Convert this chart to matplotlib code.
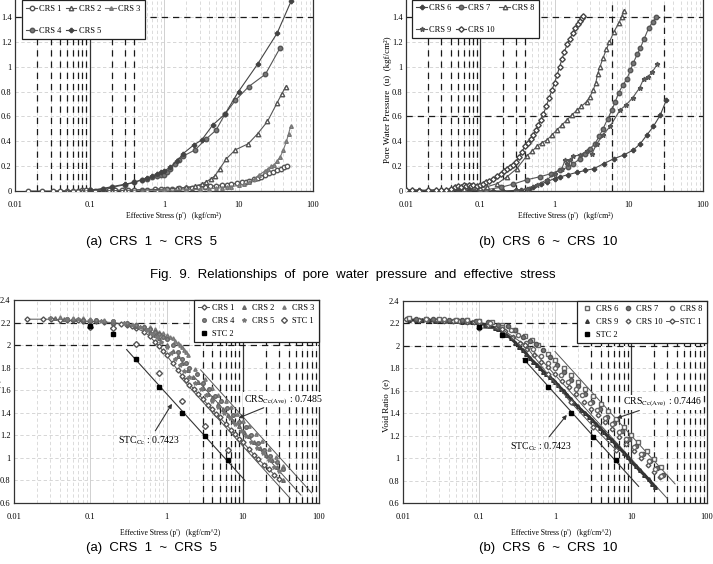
import numpy as np
import matplotlib.pyplot as plt
from matplotlib.ticker import LogLocator, NullFormatter

plt.rcParams['font.family'] = ['Liberation Serif', 'DejaVu Serif']
plt.rcParams['mathtext.fontset'] = 'stix'

# ---------------- Fig 9 (a) pore water pressure, CRS 1 - 5
crs1_p = [0.015, 0.023, 0.032, 0.04, 0.05, 0.06, 0.07, 0.08, 0.09, 0.1, 0.12, 0.15, 0.18, 0.22, 0.27, 0.33,
          0.4, 0.5, 0.6, 0.75, 0.9, 1.1, 1.3, 1.6, 2.0, 2.4, 2.9, 3.5, 4.2, 5.0, 6.0, 7.0, 8.0, 9.5, 11,
          12.5, 14, 16, 18, 20, 23, 26, 29, 33, 37, 41, 45]
crs1_u = [0, 0, 0, 0.003, 0.002, 0.004, 0.003, 0.005, 0.006, 0.005, 0.004, 0.005, 0.006, 0.006, 0.007, 0.008,
          0.009, 0.011, 0.012, 0.014, 0.015, 0.017, 0.019, 0.022, 0.025, 0.028, 0.031, 0.035, 0.039, 0.043,
          0.048, 0.052, 0.056, 0.062, 0.069, 0.076, 0.084, 0.094, 0.105, 0.115, 0.13, 0.143, 0.155, 0.168,
          0.18, 0.19, 0.2]
crs2_p = [0.05, 0.08, 0.1, 0.15, 0.2, 0.3, 0.5, 0.8, 1.0, 1.5, 2.0, 2.6, 3.2, 3.7, 4.3, 4.8, 5.6, 6.9, 9.0,
          13.5, 18, 24.5, 33, 38, 43]
crs2_u = [0, 0, 0, 0.002, 0.003, 0.005, 0.008, 0.012, 0.015, 0.022, 0.03, 0.04, 0.055, 0.075, 0.1, 0.12,
          0.18, 0.26, 0.33, 0.38, 0.46, 0.56, 0.71, 0.78, 0.84]
crs3_p = [0.5, 1, 2, 3, 4, 5, 6, 7, 8, 10, 12, 14, 16.6, 19, 22.5, 25, 27.7, 30, 33, 36, 40, 44, 47, 50]
crs3_u = [0, 0.005, 0.01, 0.015, 0.018, 0.022, 0.026, 0.03, 0.035, 0.045, 0.055, 0.07, 0.1, 0.13, 0.16,
          0.18, 0.2, 0.21, 0.24, 0.27, 0.33, 0.4, 0.46, 0.52]
crs4_p = [0.1, 0.15, 0.2, 0.3, 0.4, 0.5, 0.6, 0.7, 0.8, 0.9, 1.0, 1.1, 1.2, 1.4, 1.6, 1.8, 2.6, 3.7, 5.0,
          6.6, 9.1, 13.7, 23, 36]
crs4_u = [0.005, 0.015, 0.03, 0.05, 0.07, 0.09, 0.1, 0.11, 0.12, 0.125, 0.13, 0.15, 0.18, 0.22, 0.25,
          0.28, 0.33, 0.42, 0.49, 0.62, 0.73, 0.84, 0.94, 1.15]
crs5_p = [0.1, 0.15, 0.2, 0.3, 0.4, 0.5, 0.6, 0.7, 0.8, 0.9, 1.0, 1.2, 1.5, 1.8, 2.5, 3.2, 4.5, 6.6, 10,
          18, 33, 51]
crs5_u = [0.005, 0.02, 0.035, 0.055, 0.07, 0.09, 0.105, 0.12, 0.14, 0.15, 0.16, 0.19, 0.24, 0.3, 0.37,
          0.41, 0.53, 0.62, 0.8, 1.02, 1.27, 1.53]

# ---------------- Fig 9 (b) pore water pressure, CRS 6 - 10
crs6_p = [0.01, 0.015, 0.02, 0.03, 0.05, 0.07, 0.1, 0.15, 0.2, 0.3, 0.35, 0.45, 0.52, 0.65, 0.79, 1.0,
          1.2, 1.5, 2.0, 2.6, 3.4, 4.6, 6.3, 8.6, 11.5, 14.3, 17.5, 21.5, 26.5, 32]
crs6_u = [0.01, 0.005, 0.005, 0.005, 0.005, 0.005, 0.005, 0, 0, 0.005, 0.008, 0.02, 0.035, 0.055, 0.075,
          0.1, 0.115, 0.13, 0.15, 0.165, 0.18, 0.22, 0.26, 0.29, 0.33, 0.38, 0.45, 0.52, 0.61, 0.73]
crs7_p = [0.1, 0.12, 0.19, 0.28, 0.42, 0.64, 0.9, 1.2, 1.5, 1.8, 2.2, 2.6, 3.0, 3.5, 4.0, 4.5, 5.2, 5.9,
          6.6, 7.3, 8.3, 9.4, 10.5, 11.5, 13, 14.3, 16, 18.5, 21, 23.4]
crs7_u = [0.0, 0.01, 0.03, 0.056, 0.09, 0.115, 0.14, 0.17, 0.19, 0.22, 0.26, 0.3, 0.34, 0.38, 0.44, 0.5,
          0.58, 0.65, 0.72, 0.79, 0.85, 0.9, 0.97, 1.03, 1.1, 1.15, 1.22, 1.31, 1.36, 1.4]
crs8_p = [0.01, 0.02, 0.04, 0.06, 0.08, 0.1, 0.125, 0.17, 0.23, 0.31, 0.42, 0.5, 0.58, 0.68, 0.79, 0.92,
          1.07, 1.25, 1.46, 1.7, 2.0, 2.3, 2.7, 3.0, 3.3, 3.6, 3.8, 4.1, 4.5, 5.0, 5.5, 6.3, 7.3, 8.0, 8.5]
crs8_u = [0.01, 0.005, 0.01, 0.02, 0.03, 0.025, 0.035, 0.06, 0.115, 0.18, 0.28, 0.32, 0.36, 0.39, 0.41,
          0.45, 0.49, 0.53, 0.57, 0.61, 0.65, 0.68, 0.72, 0.76, 0.81, 0.87, 0.94, 1.0, 1.07, 1.14, 1.2,
          1.28, 1.35, 1.4, 1.45]
crs9_p = [0.3, 0.42, 0.58, 0.79, 1.0, 1.25, 1.4, 1.46, 1.6, 1.8, 2.2, 2.7, 3.2, 3.7, 4.5, 5.6, 7.6, 9.1,
          11.3, 14, 15.8, 18.3, 20.8, 24.3]
crs9_u = [0, 0.02, 0.05, 0.09, 0.14, 0.18, 0.25, 0.22, 0.25, 0.28, 0.29, 0.32, 0.3, 0.38, 0.45, 0.52,
          0.65, 0.69, 0.75, 0.83, 0.9, 0.92, 0.96, 1.02]
crs10_p = [0.01, 0.012, 0.015, 0.02, 0.025, 0.03, 0.035, 0.04, 0.045, 0.05, 0.055, 0.06, 0.065, 0.07,
           0.075, 0.08, 0.09, 0.1, 0.11, 0.12, 0.13, 0.15, 0.17, 0.19, 0.21, 0.23, 0.25, 0.28, 0.3, 0.33,
           0.36, 0.4, 0.44, 0.48, 0.52, 0.56, 0.6, 0.65, 0.71, 0.77, 0.85, 0.92, 1.0, 1.08, 1.17, 1.26,
           1.36, 1.48, 1.6, 1.75, 1.9, 2.05, 2.2, 2.35, 2.45]
crs10_u = [0.01, 0.005, 0.0, 0.005, 0.01, 0.005, 0.01, 0.02, 0.03, 0.04, 0.035, 0.045, 0.04, 0.05, 0.04,
           0.045, 0.04, 0.05, 0.06, 0.07, 0.08, 0.1, 0.12, 0.14, 0.16, 0.18, 0.19, 0.21, 0.23, 0.27, 0.31,
           0.36, 0.39, 0.42, 0.45, 0.49, 0.53, 0.57, 0.62, 0.68, 0.75, 0.81, 0.87, 0.93, 1.0, 1.06, 1.12,
           1.18, 1.22, 1.27, 1.31, 1.34, 1.37, 1.39, 1.41]

# ---------------- void ratio, CRS 1 - 5
e1_p = [0.015, 0.024, 0.031, 0.04, 0.05, 0.06, 0.07, 0.08, 0.1, 0.12, 0.15, 0.2, 0.25, 0.3, 0.35, 0.4, 0.5,
        0.6, 0.7, 0.8, 0.9, 1.0, 1.2, 1.4, 1.6, 1.8, 2.0, 2.3, 2.6, 3.0, 3.5, 4.0, 4.5, 5, 6, 7, 8, 9, 10,
        12, 14, 16, 19, 22, 26, 30]
e1_e = [2.23, 2.23, 2.23, 2.225, 2.22, 2.22, 2.22, 2.215, 2.21, 2.21, 2.205, 2.2, 2.19, 2.18, 2.17, 2.15,
        2.12, 2.08, 2.03, 1.99, 1.95, 1.91, 1.84, 1.78, 1.73, 1.69, 1.65, 1.61, 1.57, 1.52, 1.47, 1.43,
        1.39, 1.36, 1.3, 1.25, 1.21, 1.17, 1.14, 1.08, 1.03, 0.99, 0.94, 0.9, 0.85, 0.81]
e2_p = [0.035, 0.045, 0.06, 0.08, 0.1, 0.15, 0.2, 0.3, 0.4, 0.5, 0.6, 0.7, 0.8, 1.0, 1.2, 1.4, 1.6, 1.9,
        2.2, 2.6, 3, 3.5, 4, 4.7, 5.5, 6.5, 7.5, 9, 10.5, 12, 14, 17, 20, 24, 28, 34]
e2_e = [2.24, 2.23, 2.23, 2.22, 2.22, 2.21, 2.2, 2.19, 2.17, 2.15, 2.12, 2.09, 2.06, 2.0, 1.95, 1.9, 1.84,
        1.78, 1.72, 1.67, 1.62, 1.57, 1.53, 1.48, 1.43, 1.38, 1.33, 1.28, 1.23, 1.19, 1.14, 1.09, 1.03,
        0.98, 0.92, 0.8]
e3_p = [0.04, 0.06, 0.08, 0.1, 0.15, 0.2, 0.3, 0.4, 0.5, 0.6, 0.7, 0.8, 0.9, 1.0, 1.1, 1.2, 1.3, 1.4,
        1.5, 1.6, 1.7, 1.8, 1.9, 2.4, 3.2, 4.0, 4.8, 6, 7, 8.5, 10, 12, 15, 18, 22, 27, 34]
e3_e = [2.25, 2.24, 2.24, 2.23, 2.22, 2.21, 2.2, 2.19, 2.17, 2.16, 2.14, 2.12, 2.11, 2.09, 2.07, 2.06,
        2.04, 2.02, 2.0, 1.98, 1.96, 1.94, 1.91, 1.79, 1.7, 1.62, 1.56, 1.5, 1.45, 1.39, 1.33, 1.28,
        1.21, 1.15, 1.08, 1.01, 0.93]
e4_p = [0.05, 0.08, 0.12, 0.2, 0.3, 0.4, 0.5, 0.6, 0.7, 0.8, 0.9, 1.0, 1.2, 1.4, 1.6, 1.8, 2.0, 2.5, 3.0,
        3.6, 4.3, 5.2, 6.2, 7.5, 9, 11, 13, 16, 19, 23, 28, 34]
e4_e = [2.23, 2.22, 2.22, 2.21, 2.2, 2.18, 2.16, 2.14, 2.12, 2.1, 2.07, 2.05, 2.0, 1.94, 1.88, 1.84, 1.8,
        1.74, 1.66, 1.61, 1.55, 1.5, 1.44, 1.38, 1.32, 1.27, 1.2, 1.13, 1.07, 1.02, 0.96, 0.9]
e5_p = [0.03, 0.05, 0.07, 0.1, 0.14, 0.2, 0.28, 0.35, 0.45, 0.55, 0.65, 0.75, 0.85, 1.0, 1.15, 1.3, 1.5,
        1.7, 2.0, 2.4, 2.8, 3.3, 4, 4.8, 5.7, 6.8, 8, 9.5, 11, 13, 15.5, 18.5, 22, 26, 30]
e5_e = [2.24, 2.23, 2.23, 2.22, 2.21, 2.21, 2.2, 2.18, 2.16, 2.13, 2.1, 2.07, 2.03, 1.98, 1.93, 1.88,
        1.82, 1.77, 1.72, 1.66, 1.61, 1.56, 1.5, 1.45, 1.4, 1.35, 1.3, 1.24, 1.19, 1.14, 1.09, 1.04,
        0.98, 0.92, 0.88]

# ---------------- void ratio, CRS 6 - 10
e6_p = [0.012, 0.02, 0.03, 0.05, 0.07, 0.1, 0.15, 0.2, 0.3, 0.4, 0.5, 0.6, 0.8, 1.0, 1.3, 1.6, 2, 2.5,
        3.2, 4, 5, 6.3, 8, 10, 12.5, 16, 20, 25]
e6_e = [2.25, 2.24, 2.24, 2.23, 2.23, 2.22, 2.21, 2.19, 2.14, 2.09, 2.05, 2.01, 1.93, 1.87, 1.8, 1.74,
        1.68, 1.62, 1.55, 1.48, 1.42, 1.35, 1.28, 1.21, 1.14, 1.06, 0.99, 0.92]
e7_p = [0.015, 0.025, 0.04, 0.06, 0.09, 0.13, 0.18, 0.24, 0.3, 0.38, 0.47, 0.57, 0.7, 0.85, 1.05, 1.3,
        1.6, 2, 2.5, 3.1, 3.9, 4.8, 6, 7.5, 9.3, 11.5, 14.5, 18, 22, 26]
e7_e = [2.24, 2.24, 2.23, 2.23, 2.22, 2.21, 2.19, 2.18, 2.14, 2.08, 2.04, 2.02, 1.96, 1.9, 1.83, 1.77,
        1.7, 1.64, 1.57, 1.5, 1.44, 1.37, 1.31, 1.24, 1.17, 1.11, 1.04, 0.97, 0.91, 0.85]
e8_p = [0.02, 0.035, 0.05, 0.07, 0.1, 0.14, 0.2, 0.26, 0.33, 0.42, 0.52, 0.65, 0.8, 1.0, 1.2, 1.5, 1.9,
        2.3, 2.9, 3.6, 4.5, 5.6, 7, 8.7, 11, 13.5, 17, 21, 25]
e8_e = [2.24, 2.24, 2.23, 2.23, 2.22, 2.2, 2.17, 2.14, 2.1, 2.03, 1.97, 1.91, 1.85, 1.8, 1.74, 1.68, 1.62,
        1.56, 1.49, 1.43, 1.36, 1.3, 1.23, 1.17, 1.1, 1.04, 0.97, 0.9, 0.84]
e9_p = [0.012, 0.015, 0.018, 0.022, 0.026, 0.03, 0.035, 0.04, 0.045, 0.05, 0.06, 0.07, 0.08, 0.09, 0.1,
        0.12, 0.14, 0.16, 0.18, 0.2, 0.23, 0.26, 0.3, 0.34, 0.38, 0.42, 0.47, 0.52, 0.58, 0.64, 0.7, 0.77,
        0.85, 0.93, 1.0, 1.1, 1.2, 1.3, 1.45, 1.6, 1.8, 2.0, 2.2, 2.5, 2.8, 3.1, 3.5, 3.9, 4.4, 5, 5.6,
        6.3, 7, 8, 9, 10, 11.5, 13, 15, 17, 19, 21]
e9_e = [2.23, 2.23, 2.23, 2.23, 2.22, 2.23, 2.22, 2.22, 2.22, 2.22, 2.21, 2.21, 2.21, 2.21, 2.2,
        2.19, 2.18, 2.16, 2.15, 2.13, 2.1, 2.07, 2.03, 1.99, 1.96, 1.93, 1.89, 1.86, 1.83, 1.8, 1.77, 1.75,
        1.72, 1.7, 1.68, 1.65, 1.62, 1.6, 1.56, 1.53, 1.49, 1.46, 1.43, 1.4, 1.37, 1.34, 1.3, 1.27, 1.23,
        1.19, 1.16, 1.12, 1.09, 1.05, 1.01, 0.97, 0.93, 0.89, 0.85, 0.81, 0.77, 0.74]
e10_p = [0.011, 0.016, 0.021, 0.028, 0.035, 0.045, 0.055, 0.07, 0.085, 0.1, 0.13, 0.17, 0.22, 0.28, 0.35,
         0.43, 0.53, 0.65, 0.8, 1.0, 1.25, 1.55, 1.9, 2.4, 3, 3.7, 4.6, 5.7, 7, 8.7, 10.8, 13.5, 16.5, 20, 24]
e10_e = [2.24, 2.23, 2.23, 2.23, 2.22, 2.22, 2.22, 2.21, 2.21, 2.2, 2.19, 2.17, 2.13, 2.08, 2.03, 1.97,
         1.92, 1.86, 1.81, 1.75, 1.69, 1.63, 1.57, 1.5, 1.44, 1.38, 1.32, 1.26, 1.19, 1.13, 1.06, 1.0,
         0.94, 0.88, 0.83]

# standard oedometer tests
stc_p = [0.1, 0.2, 0.4, 0.8, 1.6, 3.2, 6.4]
stc1_e = [2.16, 2.15, 2.01, 1.75, 1.50, 1.28, 1.07]
stc2_e = [2.17, 2.10, 1.875, 1.63, 1.40, 1.19, 0.98]

# Cc lines (end points)
stc_line_a = ([0.3, 10.7], [1.96, 0.80])
crs_lines_a = [([1.55, 42], [1.71, 0.64]), ([2.3, 58], [1.72, 0.67]), ([2.8, 80], [1.78, 0.69])]
stc_line_b = ([0.38, 12.6], [1.888, 0.748])
crs_lines_b = [([0.45, 30], [2.0, 0.64]), ([1.0, 38], [1.95, 0.77])]

W, H = 713, 564
fig = plt.figure(figsize=(W / 100, H / 100), dpi=100)


def box(x0, y0, x1, y1):
    return [x0 / W, 1 - y1 / H, (x1 - x0) / W, (y1 - y0) / H]


def setup(ax, ylim, yticks, ylabels, dark_v, solid_v, dark_h):
    ax.set_xscale('log')
    ax.set_xlim(0.01, 100)
    ax.set_ylim(*ylim)
    ax.set_xticks([0.01, 0.1, 1, 10, 100])
    ax.set_xticklabels(['0.01', '0.1', '1', '10', '100'])
    ax.xaxis.set_minor_locator(LogLocator(base=10, subs=np.arange(2, 10)))
    ax.xaxis.set_minor_formatter(NullFormatter())
    ax.set_yticks(yticks)
    ax.set_yticklabels(ylabels)
    ax.grid(which='major', axis='x', color='#d0d0d0', lw=0.7)
    ax.grid(which='minor', axis='x', color='#d6d6d6', lw=0.6, ls=(0, (4, 3)))
    ax.grid(which='major', axis='y', color='#d0d0d0', lw=0.6, ls=(0, (4, 3)))
    ax.set_axisbelow(True)
    ax.tick_params(which='both', length=0, labelsize=6)
    ax.tick_params(axis='x', pad=7)
    ax.tick_params(axis='y', pad=2.5)
    for v in dark_v:
        ax.axvline(v, color='#1a1a1a', lw=0.9, ls=(0, (5, 4)), zorder=1.5)
    ax.axvline(solid_v, color='#333333', lw=0.9, zorder=1.5)
    for h in dark_h:
        ax.axhline(h, color='#1a1a1a', lw=0.9, ls=(0, (5, 4)), zorder=1.5)
    for s in ax.spines.values():
        s.set_color('#333333')
        s.set_linewidth(0.9)


def frame(leg):
    leg.get_frame().set_linewidth(0.9)


lo = [0.02, 0.03, 0.04, 0.05, 0.06, 0.07, 0.08, 0.09, 0.2, 0.3, 0.4]
hi = [3, 4, 5, 6, 7, 8, 9, 20, 30, 40, 50, 60, 70, 80, 90]
u_ticks = [0, 0.2, 0.4, 0.6, 0.8, 1.0, 1.2, 1.4]
u_labels = ['0', '0.2', '0.4', '0.6', '0.8', '1', '1.2', '1.4']
e_ticks = [0.6, 0.8, 1.0, 1.2, 1.4, 1.6, 1.8, 2.0, 2.2, 2.4]
e_labels = ['0.6', '0.8', '1', '1.2', '1.4', '1.6', '1.8', '2', '2.2', '2.4']

gc = '#555555'
ms = 3.2
lw = 0.8
top_leg = dict(ncol=3, loc='lower left', fontsize=6, frameon=True, fancybox=False, framealpha=1,
               edgecolor='#222222', handlelength=1.3, columnspacing=0.5, labelspacing=1.7,
               borderpad=0.5, handletextpad=0.25, borderaxespad=0)
bot_leg = dict(ncol=3, loc='upper right', fontsize=6, frameon=True, fancybox=False, framealpha=1,
               edgecolor='#222222', handlelength=1.4, columnspacing=0.45, labelspacing=0.6,
               borderpad=0.5, handletextpad=0.3, borderaxespad=0)

# ---------- (a) pore pressure
ax1 = fig.add_axes(box(15, 0, 313, 191))
setup(ax1, (0, 1.537), u_ticks, u_labels, lo, 0.1, [1.4])
ax1.spines['top'].set_visible(False)
h1 = ax1.plot(crs1_p, crs1_u, '-o', color=gc, mfc='white', ms=ms, lw=lw, zorder=3)[0]
h2 = ax1.plot(crs2_p, crs2_u, '-^', color=gc, mfc='white', ms=ms, lw=lw, zorder=3)[0]
h3 = ax1.plot(crs3_p, crs3_u, '-^', color='#777777', mfc='#999999', ms=2.6, lw=lw, zorder=3)[0]
h4 = ax1.plot(crs4_p, crs4_u, '-o', color=gc, mfc='#777777', ms=ms, lw=lw, zorder=3)[0]
h5 = ax1.plot(crs5_p, crs5_u, '-P', color='#444444', mfc='#444444', ms=3, lw=lw, zorder=3)[0]
frame(ax1.legend([h1, h4, h2, h5, h3], ['CRS 1', 'CRS 4', 'CRS 2', 'CRS 5', 'CRS 3'],
                 bbox_to_anchor=(0.0235, 0.796), **top_leg))

# ---------- (b) pore pressure
ax2 = fig.add_axes(box(406, 0, 703, 191))
setup(ax2, (0, 1.537), u_ticks, u_labels, lo + [6, 30], 0.1, [1.4, 0.6])
ax2.spines['top'].set_visible(False)
g6 = ax2.plot(crs6_p, crs6_u, '-P', color='#444444', mfc='#444444', ms=3, lw=lw, zorder=3)[0]
g7 = ax2.plot(crs7_p, crs7_u, '-o', color=gc, mfc='#777777', ms=ms, lw=lw, zorder=3)[0]
g8 = ax2.plot(crs8_p, crs8_u, '-^', color=gc, mfc='white', ms=ms, lw=lw, zorder=3)[0]
g9 = ax2.plot(crs9_p, crs9_u, '-*', color='#555555', mfc='#777777', ms=3.5, lw=lw, zorder=3)[0]
g10 = ax2.plot(crs10_p, crs10_u, '-D', color='#444444', mfc='white', ms=2.8, lw=lw, zorder=3)[0]
frame(ax2.legend([g6, g9, g7, g10, g8], ['CRS 6', 'CRS 9', 'CRS 7', 'CRS 10', 'CRS 8'],
                 bbox_to_anchor=(0.02, 0.80), **top_leg))

# ---------- (a) void ratio
ax3 = fig.add_axes(box(14, 300, 319, 503))
setup(ax3, (0.6, 2.4), e_ticks, e_labels, hi, 10, [2.2, 2.0])
ax3.plot(*stc_line_a, color='#333333', lw=0.8, zorder=2)
for xs, ys in crs_lines_a:
    ax3.plot(xs, ys, color='#555555', lw=0.7, zorder=2)
k1 = ax3.plot(e1_p, e1_e, '-D', color='#555555', mfc='white', ms=2.6, lw=0.7, zorder=3)[0]
k2 = ax3.plot(e2_p, e2_e, '^', color='#666666', mfc='#888888', ms=2.6, ls='none', zorder=3)[0]
k3 = ax3.plot(e3_p, e3_e, '^', color='#777777', mfc='#999999', ms=2.4, ls='none', zorder=3)[0]
k4 = ax3.plot(e4_p, e4_e, 'o', color='#666666', mfc='#888888', ms=2.6, ls='none', zorder=3)[0]
k5 = ax3.plot(e5_p, e5_e, '*', color='#777777', mfc='#999999', ms=3, ls='none', zorder=3)[0]
k6 = ax3.plot(stc_p, stc1_e, 'D', color='#555555', mfc='white', ms=3, ls='none', zorder=3)[0]
k7 = ax3.plot(stc_p, stc2_e, 's', color='black', mfc='black', ms=3.5, ls='none', zorder=4)[0]
frame(ax3.legend([k1, k4, k7, k2, k5, k3, k6],
                 ['CRS 1', 'CRS 4', 'STC 2', 'CRS 2', 'CRS 5', 'CRS 3', 'STC 1'], **bot_leg))
ax3.annotate('STC$_{\\mathrm{Cc}}$ : 0.7423', xy=(1.18, 1.48), xytext=(0.59, 1.15), fontsize=7,
             ha='center', va='center', arrowprops=dict(arrowstyle='-|>', color='#333333', lw=0.8,
                                                       mutation_scale=6, shrinkA=1, shrinkB=0))
ax3.annotate('CRS$_{\\mathrm{Cc(Ave)}}$ : 0.7485', xy=(8.77, 1.353), xytext=(33.8, 1.515), fontsize=7,
             ha='center', va='center', bbox=dict(fc='white', ec='none', pad=0.5),
             arrowprops=dict(arrowstyle='-|>', color='#333333', lw=0.8, mutation_scale=6,
                             shrinkA=1, shrinkB=0))

# ---------- (b) void ratio
ax4 = fig.add_axes(box(403, 301, 707, 503))
setup(ax4, (0.6, 2.4), e_ticks, e_labels, hi, 10, [2.2, 2.0])
ax4.plot(*stc_line_b, color='#333333', lw=0.8, zorder=2)
for xs, ys in crs_lines_b:
    ax4.plot(xs, ys, color='#555555', lw=0.7, zorder=2)
ax4.plot(e9_p, e9_e, color='#333333', lw=2.2, zorder=2.5)
m9 = ax4.plot(e9_p, e9_e, '^', color='#333333', mfc='#555555', ms=2.6, ls='none', zorder=3)[0]
m10 = ax4.plot(e10_p, e10_e, 'D', color='#555555', mfc='white', ms=2.4, ls='none', zorder=3)[0]
m6 = ax4.plot(e6_p, e6_e, 's', color='#666666', mfc='white', ms=2.8, ls='none', zorder=3)[0]
m7 = ax4.plot(e7_p, e7_e, 'o', color='#555555', mfc='#777777', ms=3, ls='none', zorder=3)[0]
m8 = ax4.plot(e8_p, e8_e, 'o', color='#666666', mfc='white', ms=3, ls='none', zorder=3)[0]
s1 = ax4.plot(stc_p, stc1_e, '-D', color='#555555', mfc='white', ms=2.6, lw=0.7, zorder=3)[0]
s2 = ax4.plot(stc_p, stc2_e, 's', color='black', mfc='black', ms=3.5, ls='none', zorder=4)[0]
frame(ax4.legend([m6, m9, s2, m7, m10, m8, s1],
                 ['CRS 6', 'CRS 9', 'STC 2', 'CRS 7', 'CRS 10', 'CRS 8', 'STC 1'], **bot_leg))
ax4.annotate('STC$_{\\mathrm{Cc}}$ : 0.7423', xy=(1.43, 1.385), xytext=(0.654, 1.10), fontsize=7,
             ha='center', va='center', arrowprops=dict(arrowstyle='-|>', color='#333333', lw=0.8,
                                                       mutation_scale=6, shrinkA=1, shrinkB=0))
ax4.annotate('CRS$_{\\mathrm{Cc(Ave)}}$ : 0.7446', xy=(6.5, 1.356), xytext=(25.9, 1.494), fontsize=7,
             ha='center', va='center', bbox=dict(fc='white', ec='none', pad=0.5),
             arrowprops=dict(arrowstyle='-|>', color='#333333', lw=0.8, mutation_scale=6,
                             shrinkA=1, shrinkB=0))

# ---------- axis titles and captions
fig.text(-3 / W, 1 - 100 / H, 'Pore Water Pressure  (u)  (kgf/cm²)', rotation=90, ha='center',
         va='center', fontsize=6.5)
fig.text(388 / W, 1 - 100 / H, 'Pore Water Pressure  (u)  (kgf/cm²)', rotation=90, ha='center',
         va='center', fontsize=6.5)
fig.text(-3 / W, 1 - 405 / H, 'Void Ratio  (e)', rotation=90, ha='center', va='center', fontsize=6.5)
fig.text(386 / W, 1 - 405 / H, 'Void Ratio  (e)', rotation=90, ha='center', va='center', fontsize=6.5)

fig.text(174 / W, 1 - 216 / H, "Effective Stress (p')   (kgf/cm²)", ha='center', va='center', fontsize=5.5)
fig.text(566 / W, 1 - 216 / H, "Effective Stress (p')   (kgf/cm²)", ha='center', va='center', fontsize=5.5)
fig.text(170 / W, 1 - 533 / H, "Effective Stress (p')   (kgf/cm^2)", ha='center', va='center', fontsize=5.5)
fig.text(561 / W, 1 - 533 / H, "Effective Stress (p')   (kgf/cm^2)", ha='center', va='center', fontsize=5.5)

cap = dict(ha='center', va='center', fontsize=9.5, family=['Liberation Sans', 'DejaVu Sans'])
fig.text(152 / W, 1 - 242 / H, '(a)  CRS  1  ~  CRS  5', **cap)
fig.text(548 / W, 1 - 242 / H, '(b)  CRS  6  ~  CRS  10', **cap)
fig.text(353 / W, 1 - 275 / H, 'Fig.  9.  Relationships  of  pore  water  pressure  and  effective  stress', **cap)
fig.text(152 / W, 1 - 548 / H, '(a)  CRS  1  ~  CRS  5', **cap)
fig.text(548 / W, 1 - 548 / H, '(b)  CRS  6  ~  CRS  10', **cap)

fig.savefig('out.png', dpi=100)
